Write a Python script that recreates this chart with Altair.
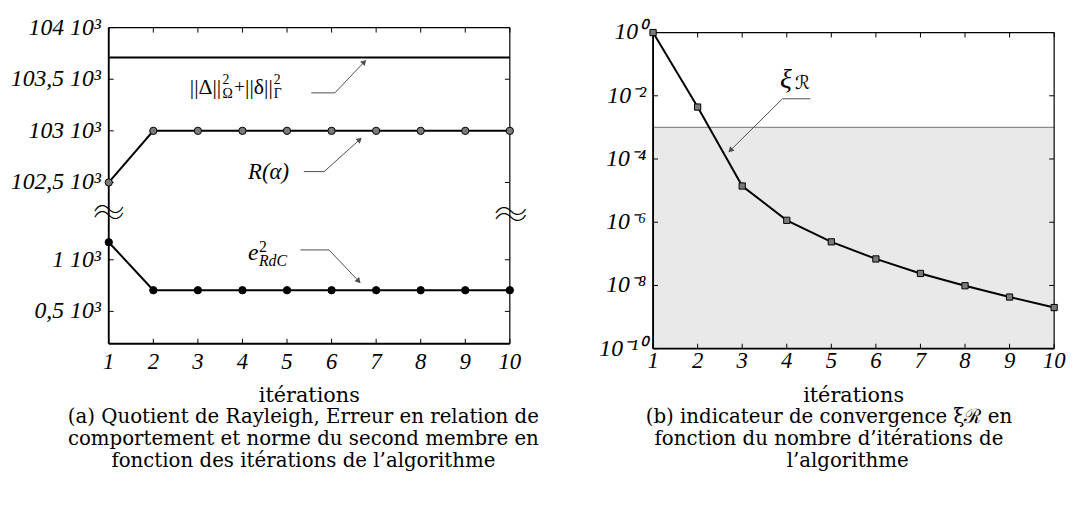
import altair as alt
import pandas as pd
import math

# ---------------- data ----------------
ITER = [1, 2, 3, 4, 5, 6, 7, 8, 9, 10]
# (a) values in 10^3 units
NORME_SECOND_MEMBRE = [103.71, 103.71, 103.71, 103.71, 103.71, 103.71, 103.71, 103.71, 103.71, 103.71]
RAYLEIGH = [102.5, 103.0, 103.0, 103.0, 103.0, 103.0, 103.0, 103.0, 103.0, 103.0]
ERREUR_RDC = [1.17, 0.705, 0.705, 0.705, 0.705, 0.705, 0.705, 0.705, 0.705, 0.705]
# (b) convergence indicator
XI_R = [1.0, 4.4e-3, 1.4e-5, 1.15e-6, 2.4e-7, 6.9e-8, 2.4e-8, 9.8e-9, 4.3e-9, 2.0e-9]
XI_SEUIL = 1e-3
XI_MIN = 1e-10

UPPER_TICKS = [102.5, 103.0, 103.5, 104.0]
UPPER_LABELS = ["102,5 10³", "103 10³", "103,5 10³", "104 10³"]
LOWER_TICKS = [0.5, 1.0]
LOWER_LABELS = ["0,5 10³", "1 10³"]
LOG_TICKS = [1e0, 1e-2, 1e-4, 1e-6, 1e-8, 1e-10]
LOG_LABELS = ["10⁰", "10⁻²", "10⁻⁴", "10⁻⁶", "10⁻⁸", "10⁻¹⁰"]
X_LABELS = [str(i) for i in ITER]

X_TITLE = "itérations"
CAPTION_A = ["(a)  Quotient de Rayleigh, Erreur en relation de",
             "comportement et norme du second membre en",
             "fonction des itérations de l’algorithme"]
CAPTION_B = ["(b)  indicateur de convergence ξℛ en",
             "fonction du nombre d’itérations de",
             "l’algorithme"]

# annotation anchors (data coordinates)
LEADERS_A = [
    dict(end=5.544, elbow=6.076, y=103.368, tip_x=6.733, tip_y=103.668, angle=43, part="upper"),
    dict(end=5.378, elbow=5.833, y=102.605, tip_x=6.631, tip_y=102.915, angle=48, part="upper"),
    dict(end=5.30, elbow=5.943, y=1.0955, tip_x=6.609, tip_y=0.7925, angle=137, part="lower"),
]
LEADER_B = dict(end=4.530, elbow=3.903, y=8.05e-3, tip_x=2.734, tip_y=1.87e-4, angle=225)

# ---------------- layout constants ----------------
W, H = 406, 320
Y_TOP = 104.0
Y_BOTTOM = 100.937
BREAK_OFFSET = 100.7505   # shift applied to the lower part of the broken axis
TICK_LEN = 5
FONT_TICK = "Liberation Serif"
FONT_TEXT = "DejaVu Serif"


def disp(v, part):
    return v + BREAK_OFFSET if part == "lower" else v


Y_TICKS_DISP = UPPER_TICKS + [disp(v, "lower") for v in LOWER_TICKS]
Y_LABELS = UPPER_LABELS + LOWER_LABELS

xs_a = alt.Scale(domain=[1, 10], nice=False, zero=False)
xs_b = alt.Scale(domain=[1, 10], nice=False, zero=False)
ya_scale = alt.Scale(domain=[Y_BOTTOM, Y_TOP], nice=False, zero=False)
yb_scale = alt.Scale(type="log", domain=[XI_MIN, 1], nice=False)


def XA(f):
    return alt.X(f"{f}:Q", scale=xs_a, axis=None)


def YA(f):
    return alt.Y(f"{f}:Q", scale=ya_scale, axis=None)


def XB(f):
    return alt.X(f"{f}:Q", scale=xs_b, axis=None)


def YB(f):
    return alt.Y(f"{f}:Q", scale=yb_scale, axis=None)


ONE = pd.DataFrame({"k": [0]})


def frame_layers():
    return [
        alt.Chart(ONE).mark_rule(color="black", strokeWidth=1.2).encode(
            x=alt.value(0), x2=alt.value(W), y=alt.value(0)),
        alt.Chart(ONE).mark_rule(color="black", strokeWidth=1.2).encode(
            x=alt.value(W), y=alt.value(0), y2=alt.value(H)),
        alt.Chart(ONE).mark_rule(color="black", strokeWidth=1.9).encode(
            x=alt.value(0), y=alt.value(0), y2=alt.value(H)),
        alt.Chart(ONE).mark_rule(color="black", strokeWidth=1.9).encode(
            x=alt.value(0), x2=alt.value(W), y=alt.value(H)),
    ]


def tick_layers(XF, YF, yfield, yticks, ylabels, ylab_dx, xlab_dy, title_dy):
    df_xt = pd.DataFrame({"it": ITER, "lab": X_LABELS})
    df_yt = pd.DataFrame({yfield: yticks, "lab": ylabels})
    return [
        alt.Chart(df_xt).mark_rule(color="black", strokeWidth=1).encode(
            x=XF("it"), y=alt.value(H), y2=alt.value(H - TICK_LEN)),
        alt.Chart(df_xt).mark_rule(color="black", strokeWidth=1).encode(
            x=XF("it"), y=alt.value(0), y2=alt.value(TICK_LEN)),
        alt.Chart(df_yt).mark_rule(color="black", strokeWidth=1).encode(
            y=YF(yfield), x=alt.value(0), x2=alt.value(TICK_LEN)),
        alt.Chart(df_yt).mark_rule(color="black", strokeWidth=1).encode(
            y=YF(yfield), x=alt.value(W), x2=alt.value(W - TICK_LEN)),
        # tick labels
        alt.Chart(df_xt).mark_text(font=FONT_TICK, fontStyle="italic", fontSize=23,
                                   color="black", align="center", baseline="alphabetic").encode(
            x=XF("it"), y=alt.value(H + xlab_dy), text="lab:N"),
        alt.Chart(df_yt).mark_text(font=FONT_TICK, fontStyle="italic", fontSize=24,
                                   color="black", align="right", baseline="middle").encode(
            y=YF(yfield), x=alt.value(ylab_dx), text="lab:N"),
        # axis title
        alt.Chart(ONE).mark_text(text=X_TITLE, font=FONT_TEXT, fontSize=21, color="black",
                                 align="center", baseline="alphabetic").encode(
            x=alt.value(W / 2), y=alt.value(H + title_dy)),
    ]


def caption_layers(lines, centers, baselines):
    out = []
    for txt, cx, by in zip(lines, centers, baselines):
        out.append(alt.Chart(ONE).mark_text(text=txt, font=FONT_TEXT, fontSize=20,
                                            color="black", align="center",
                                            baseline="alphabetic").encode(
            x=alt.value(cx), y=alt.value(by)))
    return out


def text_piece(XF, YF, x, y, yname, text, dx=0, dy=0, size=22, font=FONT_TICK,
               style="normal", align="left", baseline="alphabetic", weight="normal"):
    d = pd.DataFrame({"it": [x], yname: [y], "t": [text]})
    return alt.Chart(d).mark_text(align=align, baseline=baseline, dx=dx, dy=dy,
                                  fontSize=size, font=font, fontStyle=style,
                                  fontWeight=weight, color="black").encode(
        x=XF("it"), y=YF(yname), text="t:N")


# ---------------- panel (a) ----------------
rows = []
for i, v in zip(ITER, NORME_SECOND_MEMBRE):
    rows.append(dict(it=i, disp=v, series="norme"))
for i, v in zip(ITER, RAYLEIGH):
    rows.append(dict(it=i, disp=v, series="rayleigh"))
for i, v in zip(ITER, ERREUR_RDC):
    rows.append(dict(it=i, disp=disp(v, "lower"), series="erreur"))
df_a = pd.DataFrame(rows)

lines_a = alt.Chart(df_a).mark_line(color="black", strokeWidth=2).encode(
    x=XA("it"), y=YA("disp"), detail="series:N")
pts_r = alt.Chart(df_a[df_a.series == "rayleigh"]).mark_circle(
    size=55, color="#7a7a7a", stroke="black", strokeWidth=1, opacity=1).encode(
    x=XA("it"), y=YA("disp"))
pts_e = alt.Chart(df_a[df_a.series == "erreur"]).mark_circle(
    size=55, color="black", stroke="black", strokeWidth=1, opacity=1).encode(
    x=XA("it"), y=YA("disp"))

df_lead_a = pd.DataFrame([dict(it=d["end"], it2=d["elbow"], disp=disp(d["y"], d["part"]),
                               tip_it=d["tip_x"], tip_disp=disp(d["tip_y"], d["part"]),
                               angle=d["angle"]) for d in LEADERS_A])
lead_h_a = alt.Chart(df_lead_a).mark_rule(color="#4d4d4d", strokeWidth=1).encode(
    x=XA("it"), x2="it2:Q", y=YA("disp"))
lead_d_a = alt.Chart(df_lead_a).mark_rule(color="#4d4d4d", strokeWidth=1).encode(
    x=XA("it2"), y=YA("disp"), x2="tip_it:Q", y2="tip_disp:Q")
heads_a = alt.Chart(df_lead_a).mark_point(shape="triangle-up", filled=True, color="#4d4d4d",
                                          size=40, opacity=1).encode(
    x=XA("tip_it"), y=YA("tip_disp"), angle=alt.Angle("angle:Q", scale=None))

# label ||Δ||²_Ω + ||δ||²_Γ
NX, NY = 2.818, 103.359
norm_label = [
    text_piece(XA, YA, NX, NY, "disp", "||Δ||", size=22),
    text_piece(XA, YA, NX, NY, "disp", "2", dx=33, dy=-10, size=14),
    text_piece(XA, YA, NX, NY, "disp", "Ω", dx=33, dy=4, size=14),
    text_piece(XA, YA, NX, NY, "disp", "+", dx=45, dy=-1, size=19),
    text_piece(XA, YA, NX, NY, "disp", "||δ||", dx=56, size=22),
    text_piece(XA, YA, NX, NY, "disp", "2", dx=85, dy=-10, size=14),
    text_piece(XA, YA, NX, NY, "disp", "Γ", dx=85, dy=4, size=14),
]
r_label = [text_piece(XA, YA, 4.126, 102.535, "disp", "R(α)", size=23, style="italic")]
EX, EY = 4.126, disp(0.994, "lower")
e_label = [
    text_piece(XA, YA, EX, EY, "disp", "e", size=24, style="italic"),
    text_piece(XA, YA, EX, EY, "disp", "2", dx=11, dy=-9, size=16),
    text_piece(XA, YA, EX, EY, "disp", "RdC", dx=11, dy=6, size=16, style="italic"),
]
WAVE = "〜"
WAVE_FONT = "Noto Sans CJK JP"
breaks = [
    text_piece(XA, YA, 1, 102.191, "disp", WAVE, size=32, font=WAVE_FONT, weight=100,
               align="center", baseline="middle", dy=-3),
    text_piece(XA, YA, 1, 102.191, "disp", WAVE, size=32, font=WAVE_FONT, weight=100,
               align="center", baseline="middle", dy=3),
    text_piece(XA, YA, 10, 102.167, "disp", WAVE, size=34, font=WAVE_FONT, weight=100,
               align="center", baseline="middle", dx=1, dy=-3),
    text_piece(XA, YA, 10, 102.167, "disp", WAVE, size=34, font=WAVE_FONT, weight=100,
               align="center", baseline="middle", dx=1, dy=3),
]

panel_a = alt.layer(
    *frame_layers(),
    *tick_layers(XA, YA, "disp", Y_TICKS_DISP, Y_LABELS, -8, 26, 59),
    lines_a, pts_r, pts_e, lead_h_a, lead_d_a, heads_a,
    *norm_label, *r_label, *e_label, *breaks,
    *caption_layers(CAPTION_A, [W / 2 - 6, W / 2 - 6, W / 2 - 6], [H + 80, H + 102.5, H + 125]),
).properties(width=W, height=H)

# ---------------- panel (b) ----------------
df_b = pd.DataFrame({"it": ITER, "xi": XI_R})
df_shade = pd.DataFrame({"it": [ITER[0]], "it2": [ITER[-1]], "xi": [XI_SEUIL], "xi2": [XI_MIN]})
shade = alt.Chart(df_shade).mark_rect(color="#e9e9e9").encode(
    x=XB("it"), x2="it2:Q", y=YB("xi"), y2="xi2:Q")
seuil = alt.Chart(df_shade).mark_rule(color="#8c8c8c", strokeWidth=1.3).encode(
    x=XB("it"), x2="it2:Q", y=YB("xi"))
line_b = alt.Chart(df_b).mark_line(color="black", strokeWidth=2).encode(x=XB("it"), y=YB("xi"))
pts_b = alt.Chart(df_b).mark_square(size=40, color="#7a7a7a", stroke="black",
                                     strokeWidth=1, opacity=1).encode(x=XB("it"), y=YB("xi"))

df_lead_b = pd.DataFrame([dict(it=LEADER_B["elbow"], it2=LEADER_B["end"], xi=LEADER_B["y"],
                               tip_it=LEADER_B["tip_x"], tip_xi=LEADER_B["tip_y"],
                               angle=LEADER_B["angle"])])
lead_h_b = alt.Chart(df_lead_b).mark_rule(color="#4d4d4d", strokeWidth=1).encode(
    x=XB("it"), x2="it2:Q", y=YB("xi"))
lead_d_b = alt.Chart(df_lead_b).mark_rule(color="#4d4d4d", strokeWidth=1).encode(
    x=XB("it"), y=YB("xi"), x2="tip_it:Q", y2="tip_xi:Q")
heads_b = alt.Chart(df_lead_b).mark_point(shape="triangle-up", filled=True, color="#4d4d4d",
                                          size=40, opacity=1).encode(
    x=XB("tip_it"), y=YB("tip_xi"), angle=alt.Angle("angle:Q", scale=None))
XIX, XIY = 3.85, 0.0174
xi_label = [
    text_piece(XB, YB, XIX, XIY, "xi", "ξ", size=28, style="italic"),
    text_piece(XB, YB, XIX, XIY, "xi", "ℛ", dx=15, dy=1, size=19, font="DejaVu Sans"),
]

panel_b = alt.layer(
    shade, seuil, *frame_layers(),
    *tick_layers(XB, YB, "xi", LOG_TICKS, LOG_LABELS, -7, 20, 54),
    line_b, pts_b, lead_h_b, lead_d_b, heads_b, *xi_label,
    *caption_layers(CAPTION_B, [W / 2 - 25, W / 2 - 25, W / 2 - 6],
                    [H + 75, H + 97.5, H + 120]),
).properties(width=W, height=H)

spacer = alt.Chart(ONE).mark_point(opacity=0).encode(
    x=alt.X("k:Q", axis=None), y=alt.Y("k:Q", axis=None)
).properties(width=W, height=5)

right = alt.vconcat(spacer, panel_b, spacing=0, bounds="flush")

chart = alt.hconcat(panel_a, right, spacing=145, bounds="flush").properties(
    padding={"left": 2, "top": 4, "right": 0, "bottom": 0}
).configure_view(stroke="transparent")

chart.save("out.html", embed_options={"renderer": "svg", "actions": False})
